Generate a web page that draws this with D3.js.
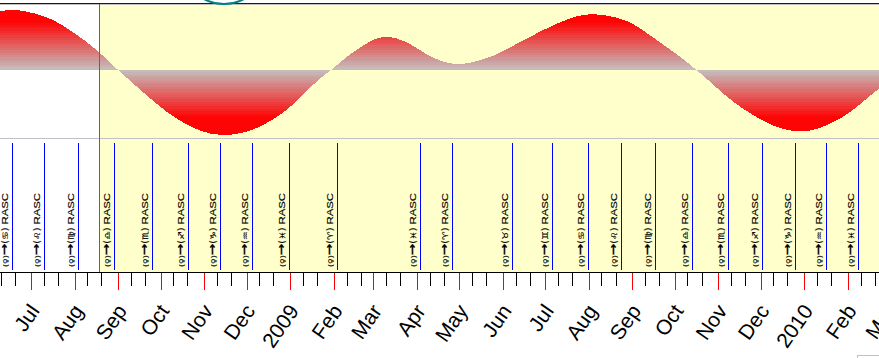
<!DOCTYPE html>
<html>
<head>
<meta charset="utf-8">
<script src="https://cdn.jsdelivr.net/npm/d3@7"></script>
<style>
    html, body { margin: 0; padding: 0; background: #fff; overflow: hidden; }
    svg { display: block; }
    .event-label { font-family: "Liberation Sans", Arial, sans-serif; font-size: 9.5px; fill: #000; stroke: #000; stroke-width: 0.15px; }
    .event-label .planet { font-family: "DejaVu Sans", sans-serif; font-size: 6.5px; }
    .event-label .sign { font-family: "DejaVu Sans", sans-serif; font-size: 8px; }
    .event-label .arrow { font-family: "DejaVu Sans", sans-serif; font-size: 11.5px; font-weight: bold; }
    .month-label { font-family: "Liberation Sans", Arial, sans-serif; font-size: 21px; fill: #000; }
</style>
</head>
<body>
<svg id="chart" width="879" height="358"></svg>
<script>
const waveDays = [-33, -22, -10, 13, 25, 37, 49, 61, 72, 84, 96, 108, 120, 136, 155, 167, 179, 191, 198, 205,
    213, 221, 228, 238, 245, 254, 264, 274, 285, 297, 306, 316, 328, 340, 352, 363, 375, 387, 399, 416,
    427, 439, 451, 462, 472, 486, 498, 510, 522, 534, 546, 558, 569, 581, 593, 602, 610];
const waveValues = [57, 58.5, 61, 52.5, 41.5, 30.5, 16.5, 0, -13.5, -28.5, -42.5, -53.5, -62, -67, -62, -53.5, -43.5, -27.5, -17.5, -8.5,
    0, 9.5, 17.5, 26.5, 32, 33.5, 29.5, 21.5, 11, 6, 5, 8.5, 13.5, 22.5, 31.5, 39.5, 47.5, 54, 56.5, 52.5,
    46.5, 34.5, 22.5, 11.5, 0, -17.5, -32.5, -43.5, -53.5, -60, -62.5, -60, -52.5, -43.5, -28.5, -18.5, -10];

// Ereignisse (Eintritt in Zeichen)
const eventDates = ["2008-06-17T12", "2008-07-10T06", "2008-08-03T09", "2008-08-28T22", "2008-09-24T22", "2008-10-20T11",
    "2008-11-12T05", "2008-12-04T22", "2008-12-31T03", "2009-02-03T05", "2009-04-03T03", "2009-04-25T22",
    "2009-06-07T10", "2009-07-05T19", "2009-07-31T10", "2009-08-23T19", "2009-09-17T00", "2009-10-13T05",
    "2009-11-07T19", "2009-12-01T22", "2009-12-25T07", "2010-01-16T10", "2010-02-08T02"];
const eventSigns = ["♋", "♌", "♍", "♎", "♏", "♐", "♑", "♒", "♓", "♈", "♓", "♈",
    "♉", "♊", "♋", "♌", "♍", "♎", "♏", "♐", "♑", "♒", "♓"];

const monthNames = ["Jan", "Feb", "Mar", "Apr", "May", "Jun", "Jul", "Aug", "Sep", "Oct", "Nov", "Dec"];

const parseEvent = d3.utcParse("%Y-%m-%dT%H");
const startDay = new Date(Date.UTC(2008, 6, 1));

const svg = d3.select("#chart");

// Zeitskala
const xScale = d3.scaleUtc()
    .domain([new Date(Date.UTC(2008, 5, 9)), new Date(Date.UTC(2010, 1, 23))])
    .range([0.5, 879.5]);

const yScale = d3.scaleLinear()
    .domain([-66, 66])
    .range([135.7, 3.7]);

const zeroY = yScale(0);
const nowX = 99.5;

// Hintergrund
svg.append("rect")
    .attr("x", nowX).attr("y", 4)
    .attr("width", 879 - nowX).attr("height", 268)
    .attr("fill", "#ffffcc");

// Verlauf grau -> rot, in Stufen
const fadeRange = 49;
const bandCount = 20;
const color = d3.interpolateRgb("#c4c0c0", "#ff0000");
const defs = svg.append("defs");
const gradient = defs.append("linearGradient")
    .attr("id", "waveFill")
    .attr("gradientUnits", "userSpaceOnUse")
    .attr("x1", 0).attr("x2", 0)
    .attr("y1", zeroY - fadeRange).attr("y2", zeroY + fadeRange);

const total = bandCount * 2;
d3.range(total).forEach(i => {
    const dist = Math.abs(i + 0.5 - bandCount) / bandCount;
    const c = color(dist);
    gradient.append("stop").attr("offset", i / total).attr("stop-color", c);
    gradient.append("stop").attr("offset", (i + 1) / total).attr("stop-color", c);
});

const area = d3.area()
    .x((d, i) => xScale(d3.utcDay.offset(startDay, waveDays[i])))
    .y0(zeroY)
    .y1(d => yScale(d))
    .curve(d3.curveBasis);

svg.append("path")
    .datum(waveValues)
    .attr("fill", "url(#waveFill)")
    .attr("shape-rendering", "crispEdges")
    .attr("d", area);

// Linien oben und unten
svg.append("line").attr("x1", 0).attr("x2", 879).attr("y1", 4.5).attr("y2", 4.5).attr("stroke", "#c0c0c0");
svg.append("line").attr("x1", 0).attr("x2", 879).attr("y1", 3.5).attr("y2", 3.5).attr("stroke", "#0000e0");
svg.append("line").attr("x1", 0).attr("x2", 879).attr("y1", 138.5).attr("y2", 138.5).attr("stroke", "#c0c0c8");

// Kreisbogen oben
svg.append("circle")
    .attr("cx", 224).attr("cy", -38).attr("r", 42)
    .attr("fill", "none").attr("stroke", "#008080").attr("stroke-width", 2);

// Jetzt-Linie
svg.append("line")
    .attr("x1", nowX).attr("x2", nowX).attr("y1", 4).attr("y2", 272)
    .attr("stroke", "#2a8070");

// Ereignislinien und Beschriftung
const events = svg.append("g").selectAll("g")
    .data(eventDates)
    .join("g")
    .attr("transform", d => `translate(${Math.floor(xScale(parseEvent(d))) + 0.5}, 0)`);

events.append("line")
    .attr("y1", 143).attr("y2", 270)
    .attr("stroke", "#0000ff");

const labels = events.append("text")
    .attr("class", "event-label")
    .attr("transform", "translate(-4.5, 267) scale(1, 1.2) rotate(-90)");

labels.append("tspan").attr("class", "planet").text("(♀)");
labels.append("tspan").attr("class", "arrow").text("→");
labels.append("tspan").attr("class", "sign").text((d, i) => `(${eventSigns[i]}\uFE0E)`);
labels.append("tspan").attr("dx", 2.5).text("RASC");

// Achse unten
svg.append("line").attr("x1", 0).attr("x2", 879).attr("y1", 272.5).attr("y2", 272.5).attr("stroke", "#000");

const months = d3.utcMonth.range(new Date(Date.UTC(2008, 5, 1)), new Date(Date.UTC(2010, 3, 1)));
const minorTicks = months.flatMap(m => [d3.utcDay.offset(m, 9), d3.utcDay.offset(m, 19)]);

svg.append("g").selectAll("line")
    .data(minorTicks)
    .join("line")
    .attr("x1", d => Math.floor(xScale(d)) + 0.5)
    .attr("x2", d => Math.floor(xScale(d)) + 0.5)
    .attr("y1", 273).attr("y2", 286)
    .attr("stroke", "#000");

svg.append("g").selectAll("line")
    .data(months)
    .join("line")
    .attr("x1", d => Math.floor(xScale(d)) + 0.5)
    .attr("x2", d => Math.floor(xScale(d)) + 0.5)
    .attr("y1", 273).attr("y2", 290)
    .attr("stroke", "#ff0000");

svg.append("g").selectAll("text")
    .data(months.filter(d => xScale(d) > 0))
    .join("text")
    .attr("class", "month-label")
    .attr("text-anchor", "end")
    .attr("transform", d => `translate(${xScale(d) + 9}, 311) rotate(-55)`)
    .text(d => d.getUTCMonth() === 0 ? d.getUTCFullYear() : monthNames[d.getUTCMonth()]);

// Rahmenrest unten rechts
svg.append("rect")
    .attr("x", 857.5).attr("y", 355.5)
    .attr("width", 30).attr("height", 10)
    .attr("fill", "none").attr("stroke", "#c0c0c0");
</script>
</body>
</html>
